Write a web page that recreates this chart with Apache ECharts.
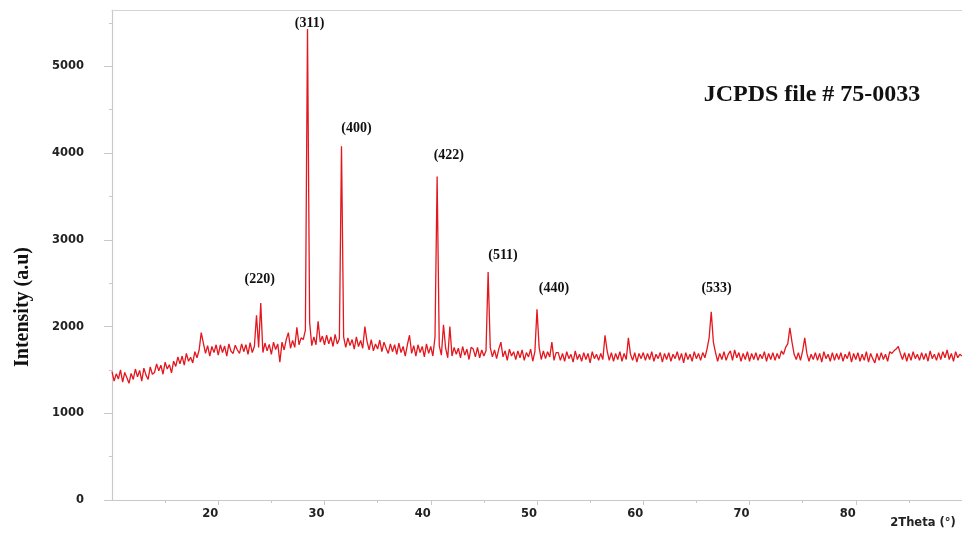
<!DOCTYPE html>
<html>
<head>
<meta charset="utf-8">
<script src="https://cdn.jsdelivr.net/npm/echarts@6/dist/echarts.min.js"></script>
<style>
    html, body { margin: 0; padding: 0; background: #fff; }
    #xrdChart { width: 962px; height: 539px; }
</style>
</head>
<body>
<div id="xrdChart"></div>
<script>
// scan starts at 10 deg, one reading every 0.2 deg up to 90 deg
var startAngle = 10;
var stepAngle = 0.2;
var intensity = [
    1480, 1370, 1455, 1395, 1500, 1360, 1470, 1410, 1345, 1460,
    1390, 1510, 1420, 1495, 1370, 1520, 1440, 1390, 1535, 1450,
    1470, 1570, 1490, 1555, 1450, 1590, 1510, 1560, 1465, 1600,
    1540, 1650, 1570, 1660, 1555, 1690, 1600, 1645, 1580, 1710,
    1640, 1730, 1930, 1810, 1690, 1780, 1660, 1770, 1700, 1790,
    1670, 1790, 1700, 1775, 1660, 1800, 1715, 1690, 1785, 1730,
    1690, 1800, 1710, 1790, 1680, 1815, 1700, 1770, 2130, 1760,
    2270, 1700, 1810, 1720, 1795, 1680, 1820, 1735, 1800, 1590,
    1820, 1730, 1850, 1930, 1750, 1840, 1760, 1990, 1790, 1870,
    1850, 1960, 5430, 2050, 1780, 1880, 1790, 2060, 1820, 1890,
    1790, 1900, 1800, 1880, 1770, 1910, 1800, 1860, 4080, 1880,
    1760, 1870, 1780, 1850, 1740, 1880, 1770, 1840, 1750, 2000,
    1830, 1730, 1850, 1720, 1800, 1740, 1845, 1710, 1820, 1750,
    1690, 1800, 1710, 1790, 1680, 1810, 1700, 1770, 1660, 1790,
    1900, 1690, 1780, 1660, 1790, 1700, 1770, 1650, 1800, 1690,
    1770, 1660, 1880, 3730, 1780, 1670, 2020, 1750, 1640, 2000,
    1660, 1760, 1680, 1750, 1640, 1770, 1670, 1740, 1620, 1760,
    1740, 1650, 1760, 1640, 1730, 1660, 1720, 2630, 1760, 1650,
    1730, 1630, 1740, 1820, 1650, 1720, 1610, 1740, 1660, 1710,
    1620, 1720, 1640, 1730, 1610, 1700, 1650, 1740, 1600, 1710,
    2200, 1760, 1620, 1720, 1630, 1710, 1650, 1820, 1610, 1700,
    1700, 1610, 1690, 1600, 1710, 1630, 1680, 1590, 1720, 1620,
    1680, 1600, 1700, 1620, 1690, 1580, 1710, 1630, 1680, 1610,
    1690, 1620, 1900, 1720, 1610, 1700, 1600, 1690, 1620, 1710,
    1600, 1690, 1620, 1870, 1680, 1610, 1700, 1590, 1690, 1630,
    1700, 1610, 1690, 1620, 1710, 1600, 1680, 1630, 1700, 1590,
    1690, 1620, 1700, 1600, 1680, 1630, 1710, 1610, 1690, 1580,
    1700, 1620, 1680, 1600, 1710, 1630, 1690, 1610, 1700, 1640,
    1740, 1870, 2170, 1820, 1700, 1600, 1690, 1620, 1710, 1610,
    1680, 1720, 1610, 1730, 1640, 1700, 1600, 1690, 1620, 1710,
    1600, 1690, 1620, 1700, 1610, 1680, 1630, 1710, 1600, 1690,
    1620, 1700, 1610, 1690, 1630, 1720, 1680, 1760, 1800, 1985,
    1820, 1680, 1620, 1700, 1610, 1720, 1870, 1690, 1600, 1680,
    1620, 1700, 1610, 1690, 1590, 1710, 1630, 1680, 1600, 1700,
    1610, 1690, 1620, 1700, 1600, 1680, 1630, 1710, 1590, 1690,
    1620, 1700, 1600, 1680, 1610, 1710, 1590, 1690, 1630, 1580,
    1690, 1610, 1700, 1620, 1680, 1600, 1710, 1690, 1720, 1740,
    1770, 1690, 1620, 1700, 1600, 1690, 1610, 1710, 1630, 1680,
    1610, 1700, 1620, 1690, 1600, 1720, 1630, 1680, 1610, 1700,
    1620, 1710, 1640, 1730, 1620, 1690, 1600, 1710, 1640, 1680,
    1660
];

// (hkl) labels and where they sit, in axis units
var peakNames = ['(220)', '(311)', '(400)', '(422)', '(511)', '(440)', '(533)'];
var peakLabelAngle = [23.9, 28.6, 33.0, 41.7, 46.8, 51.6, 66.9];
var peakLabelHeight = [2540, 5490, 4290, 3970, 2825, 2435, 2435];

var xTicks = [20, 30, 40, 50, 60, 70, 80];
var xMinorTicks = [15, 25, 35, 45, 55, 65, 75, 85];
var yTicks = [0, 1000, 2000, 3000, 4000, 5000];
var yMinorTicks = [500, 1500, 2500, 3500, 4500, 5500];

var pattern = intensity.map(function (v, i) {
    return [+(startAngle + i * stepAngle).toFixed(1), v];
});

var axisColor = '#c9c9c9';
var tickFont = { fontFamily: 'DejaVu Sans', fontWeight: 'bold', fontSize: 11.5, color: '#222' };

var chart = echarts.init(document.getElementById('xrdChart'));
var option = {
    animation: false,
    grid: { left: 112, top: 10, width: 852, height: 490 },
    xAxis: [
        {
            type: 'value', min: 10, max: 90,
            axisLine: { show: true, lineStyle: { color: axisColor, width: 1.2 } },
            axisTick: { show: true, customValues: xTicks, length: 5, lineStyle: { color: axisColor } },
            axisLabel: Object.assign({ customValues: xTicks, margin: 8, padding: [0, 16, 0, 0] }, tickFont),
            splitLine: { show: false }
        },
        {
            type: 'value', min: 10, max: 90, position: 'bottom',
            axisLine: { show: false },
            axisTick: { show: true, customValues: xMinorTicks, length: 3, lineStyle: { color: axisColor } },
            axisLabel: { show: false },
            splitLine: { show: false }
        },
        {
            // frame line along the top
            type: 'value', min: 10, max: 90, position: 'top',
            axisLine: { show: true, lineStyle: { color: '#d4d4d4', width: 1 } },
            axisTick: { show: false },
            axisLabel: { show: false },
            splitLine: { show: false }
        }
    ],
    yAxis: [
        {
            type: 'value', min: 0, max: 5650,
            axisLine: { show: true, lineStyle: { color: axisColor, width: 1.2 } },
            axisTick: { show: true, customValues: yTicks, length: 8, lineStyle: { color: axisColor } },
            axisLabel: Object.assign({
                customValues: yTicks, margin: 28,
                formatter: function (v) { return String(v); }
            }, tickFont),
            splitLine: { show: false }
        },
        {
            type: 'value', min: 0, max: 5650, position: 'left',
            axisLine: { show: false },
            axisTick: { show: true, customValues: yMinorTicks, length: 3, lineStyle: { color: axisColor } },
            axisLabel: { show: false },
            splitLine: { show: false }
        }
    ],
    series: [
        {
            name: 'XRD',
            type: 'line',
            data: pattern,
            symbol: 'none',
            smooth: false,
            sampling: null,
            lineStyle: { color: '#e3171e', width: 1.3 }
        }
    ],
    graphic: [
        {
            type: 'text', x: 23, y: 307, rotation: Math.PI / 2,
            style: {
                text: 'Intensity (a.u)', align: 'center', verticalAlign: 'middle',
                fontFamily: 'Liberation Serif', fontWeight: 'bold', fontSize: 20, fill: '#111'
            }
        },
        {
            type: 'text', x: 812, y: 95,
            style: {
                text: 'JCPDS file # 75-0033', align: 'center', verticalAlign: 'middle',
                fontFamily: 'Liberation Serif', fontWeight: 'bold', fontSize: 24, fill: '#111'
            }
        },
        {
            type: 'text', x: 923, y: 523,
            style: {
                text: '2Theta (°)', align: 'center', verticalAlign: 'middle',
                fontFamily: 'DejaVu Sans', fontWeight: 'bold', fontSize: 11.5, fill: '#222'
            }
        }
    ]
};
chart.setOption(option);

// hkl labels placed through the chart's own axes
var hklTexts = peakNames.map(function (n, i) {
    var p = chart.convertToPixel({ gridIndex: 0 }, [peakLabelAngle[i], peakLabelHeight[i]]);
    return {
        type: 'text', x: p[0], y: p[1],
        style: {
            text: n, align: 'center', verticalAlign: 'middle',
            fontFamily: 'Liberation Serif', fontWeight: 'bold', fontSize: 14, fill: '#111'
        }
    };
});
chart.setOption({ graphic: option.graphic.concat(hklTexts) });
</script>
</body>
</html>
